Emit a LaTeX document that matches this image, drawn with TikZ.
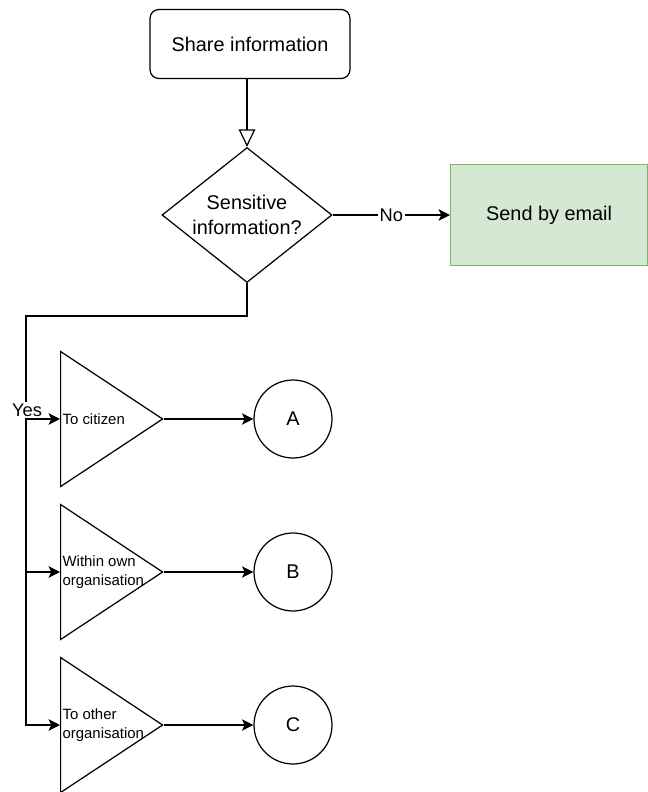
\documentclass[tikz,border=0pt]{standalone}
\usepackage{fontspec}
\setmainfont{Liberation Sans}
\usetikzlibrary{arrows.meta,positioning,shapes.geometric}
\definecolor{MailGreen}{HTML}{D5E8D4}
\definecolor{MailGreenDark}{HTML}{82B366}

\begin{document}
\begin{tikzpicture}[x=0.02cm,y=-0.02cm,line width=0.7pt,
 startbox/.style={draw,rounded corners=5pt,minimum width=4cm,minimum height=1.38cm,
 font=\fontsize{11.3}{14}\selectfont},
 decision/.style={draw,diamond,aspect=1.26,inner sep=0pt,minimum width=3.4cm,
 minimum height=2.7cm,align=center,font=\fontsize{11.3}{14}\selectfont},
 mailbox/.style={draw=MailGreenDark,fill=MailGreen,minimum width=3.94cm,
 minimum height=2.02cm,font=\fontsize{11.3}{14}\selectfont},
 branch/.style={draw,isosceles triangle,isosceles triangle stretches,inner sep=0pt,
 minimum width=2.7cm,minimum height=2.04cm},
 branchtext/.style={align=left,inner sep=0pt,font=\fontsize{8.5}{10.8}\selectfont},
 endpoint/.style={draw,circle,minimum size=1.56cm,inner sep=0pt,
 font=\fontsize{11.3}{14}\selectfont},
 edgelabel/.style={fill=white,inner sep=1pt,font=\fontsize{10.4}{12}\selectfont},
 flow/.style={-{Stealth[length=6.5pt,width=6.5pt,inset=1.5pt]}}]
\useasboundingbox (0,0) rectangle (647,792);

\node[startbox] (share) at (250,44) {Share information};
\node[decision] (sens) at (247,215) {Sensitive\\information?};
\node[mailbox,anchor=west] (mail) at (450,215) {Send by email};

\draw[-{Triangle[open,length=10pt,width=9.5pt]}] (sens.north |- share.south) -- (sens.north);
\draw[flow] (sens) -- node[edgelabel] (no) {No} (mail);

% the three ways a sensitive item can go
\coordinate (rail) at (26,316);
\foreach \i/\y/\dest/\txt in {1/419/A/To citizen,2/572/B/{Within own\\organisation},3/725/C/{To other\\organisation}} {
 \node[branch,anchor=west] (t\i) at (60,\y) {};
 \node[branchtext,anchor=west] (l\i) at (62,\y) {\txt};
 \node[endpoint] (c\i) at (293,\y) {\dest};
 \draw[flow] (sens.south) |- (rail) |- (t\i.west);
 \draw[flow] (t\i.apex) -- (c\i);
}
\node[edgelabel] (yes) at (27,410) {Yes};
\end{tikzpicture}
\end{document}
